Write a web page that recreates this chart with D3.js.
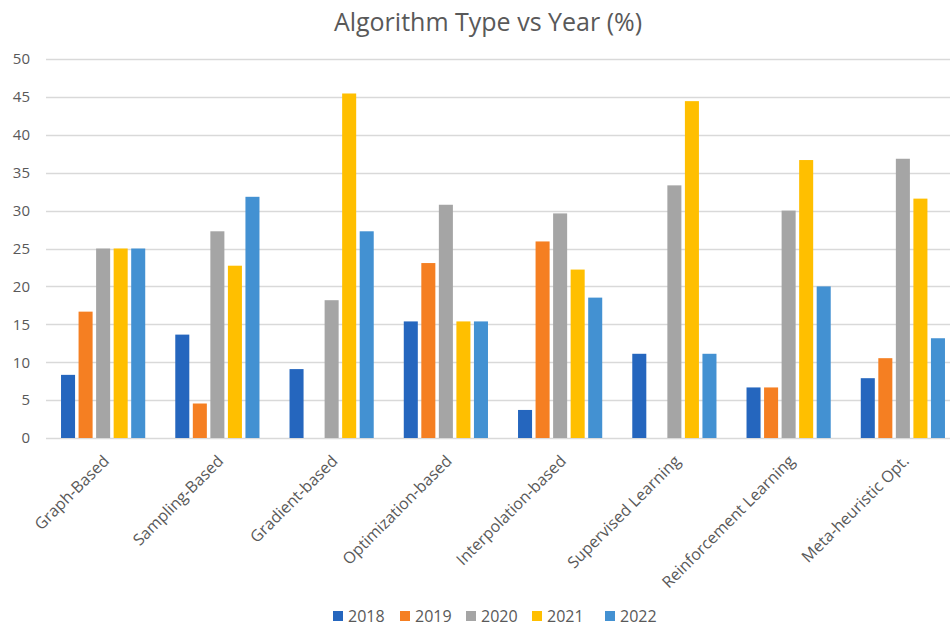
<!DOCTYPE html>
<html>
<head>
<meta charset="utf-8">
<script src="https://cdn.jsdelivr.net/npm/d3@7"></script>
<style>
  html, body { margin: 0; padding: 0; background: #fff; }
  svg { display: block; font-family: "Open Sans", "Noto Sans", sans-serif; }
</style>
</head>
<body>
<svg id="chart" width="950" height="629"></svg>
<script>
const categories = ["Graph-Based", "Sampling-Based", "Gradient-based", "Optimization-based",
  "Interpolation-based", "Supervised Learning", "Reinforcement Learning", "Meta-heuristic Opt."];
const years = ["2018", "2019", "2020", "2021", "2022"];
const values2018 = [8.33, 13.64, 9.09, 15.38, 3.70, 11.11, 6.67, 7.89];
const values2019 = [16.67, 4.55, 0, 23.08, 25.93, 0, 6.67, 10.53];
const values2020 = [25.0, 27.27, 18.18, 30.77, 29.63, 33.33, 30.0, 36.84];
const values2021 = [25.0, 22.73, 45.45, 15.38, 22.22, 44.44, 36.67, 31.58];
const values2022 = [25.0, 31.82, 27.27, 15.38, 18.52, 11.11, 20.0, 13.16];
const yTicks = [0, 5, 10, 15, 20, 25, 30, 35, 40, 45, 50];
const colors = ["#2566be", "#f57f22", "#a5a5a5", "#ffbf00", "#4391d2"];

const series = [values2018, values2019, values2020, values2021, values2022];

const svg = d3.select("#chart");
const mLeft = 46, mRight = 960, mTop = 59, mBottom = 438;

const x0 = d3.scaleBand().domain(categories).range([mLeft, mRight])
  .paddingInner(0.263).paddingOuter(0.1315);
const x1 = d3.scaleBand().domain(years).range([0, x0.bandwidth()])
  .paddingInner(0.2).paddingOuter(0);
const y = d3.scaleLinear().domain([0, 50]).range([mBottom, mTop]);
const color = d3.scaleOrdinal().domain(years).range(colors);

// gridlines
svg.append("g")
  .selectAll("line").data(yTicks).join("line")
  .attr("x1", mLeft).attr("x2", mRight)
  .attr("y1", d => Math.round(y(d)) + 0.5).attr("y2", d => Math.round(y(d)) + 0.5)
  .attr("stroke", "#d9d9d9").attr("stroke-width", 1.3);

// y axis labels
const yAxis = d3.axisLeft(y).tickValues(yTicks).tickSize(0).tickPadding(0);
const yg = svg.append("g").attr("transform", `translate(30,0)`).call(yAxis);
yg.select(".domain").remove();
yg.selectAll("text").attr("fill", "#595959").style("font-size", "15px")
  .style("font-family", "'Open Sans', sans-serif");

// bars
const groups = svg.append("g").selectAll("g").data(categories).join("g")
  .attr("transform", d => `translate(${x0(d)},0)`);
groups.selectAll("rect")
  .data((c, i) => years.map((yr, k) => ({ yr, v: series[k][i] })))
  .join("rect")
  .attr("x", d => x1(d.yr))
  .attr("width", x1.bandwidth())
  .attr("y", d => y(d.v))
  .attr("height", d => y(0) - y(d.v))
  .attr("fill", d => color(d.yr));

// x axis labels
const xAxis = d3.axisBottom(x0).tickSize(0).tickPadding(0);
const xg = svg.append("g").attr("transform", `translate(0,${mBottom})`).call(xAxis);
xg.select(".domain").remove();
xg.selectAll(".tick text")
  .attr("fill", "#595959").style("font-size", "16px")
  .style("font-family", "'Open Sans', sans-serif")
  .attr("text-anchor", "end")
  .attr("y", 0).attr("dy", 0)
  .attr("transform", "translate(7,24) rotate(-45)");

// title
svg.append("text").attr("x", 488).attr("y", 31)
  .attr("text-anchor", "middle").attr("fill", "#595959")
  .style("font-size", "25px").text("Algorithm Type vs Year (%)");

// legend
const legendX = [333, 400, 466, 532, 605];
const lg = svg.append("g").selectAll("g").data(years).join("g")
  .attr("transform", (d, i) => `translate(${legendX[i]},611)`);
lg.append("rect").attr("width", 10).attr("height", 10).attr("fill", d => color(d));
lg.append("text").attr("x", 15).attr("y", 11).attr("fill", "#595959")
  .style("font-size", "16px").text(d => d);
</script>
</body>
</html>
